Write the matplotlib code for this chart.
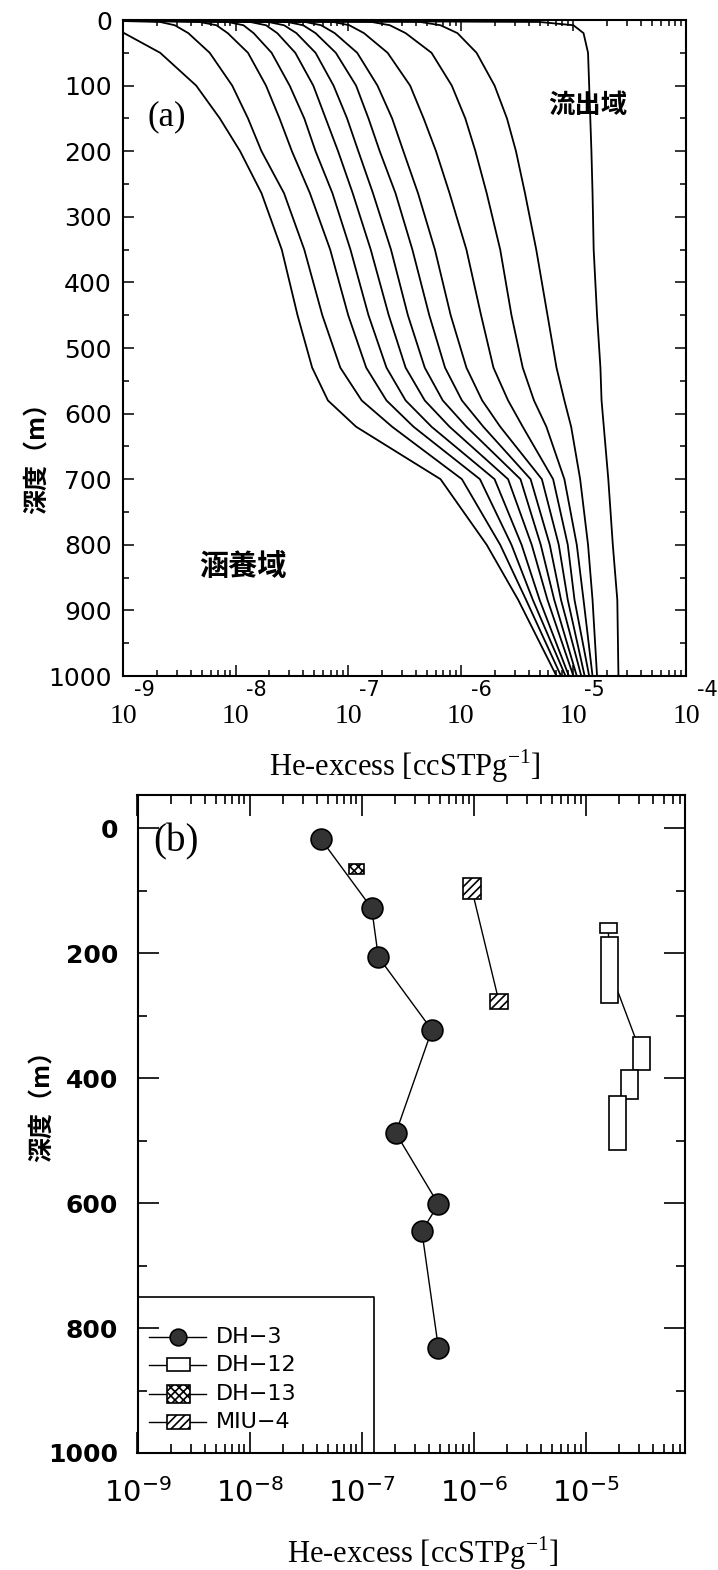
import numpy as np
import matplotlib
matplotlib.use("Agg")
import matplotlib.pyplot as plt
from matplotlib import transforms, font_manager
from matplotlib.patches import Rectangle
from matplotlib.ticker import LogLocator, MultipleLocator, NullFormatter, FixedLocator, FixedFormatter

names = {f.name for f in font_manager.fontManager.ttflist}
NARROW = 'Liberation Sans Narrow' if 'Liberation Sans Narrow' in names else 'DejaVu Sans'
CJK = ['Noto Sans CJK JP', 'DejaVu Sans']
SERIF = 'Liberation Serif'

plt.rcParams['mathtext.fontset'] = 'custom'
plt.rcParams['mathtext.rm'] = SERIF
plt.rcParams['mathtext.sf'] = NARROW

# ---------------- panel (a): model curves (log10 He-excess vs depth) -------------
depth_a = [0, 3, 8, 20, 50, 100, 150, 200, 264, 350, 450, 530, 580, 620, 700, 800, 884, 1000]
c1 = [-9.38, -9.20, -9.10, -8.99, -8.67, -8.35, -8.14, -7.96, -7.77, -7.59, -7.45, -7.32, -7.18, -6.93, -6.18, -5.77, -5.49, -5.15]
c2 = [-9.38, -8.67, -8.54, -8.42, -8.23, -8.03, -7.89, -7.77, -7.57, -7.39, -7.23, -7.07, -6.88, -6.61, -5.99, -5.65, -5.42, -5.11]
c3 = [-9.38, -8.32, -8.17, -8.07, -7.89, -7.73, -7.61, -7.50, -7.34, -7.16, -7.00, -6.84, -6.66, -6.42, -5.83, -5.55, -5.36, -5.07]
c4 = [-9.38, -8.07, -7.93, -7.84, -7.68, -7.52, -7.39, -7.29, -7.14, -6.98, -6.82, -6.66, -6.49, -6.26, -5.70, -5.46, -5.30, -5.04]
c5 = [-9.38, -7.87, -7.73, -7.63, -7.47, -7.31, -7.20, -7.09, -6.96, -6.80, -6.64, -6.49, -6.32, -6.10, -5.58, -5.37, -5.23, -5.00]
c6 = [-9.38, -7.71, -7.57, -7.46, -7.29, -7.13, -7.01, -6.91, -6.78, -6.62, -6.47, -6.32, -6.16, -5.95, -5.47, -5.29, -5.17, -4.97]
c7 = [-9.38, -7.54, -7.40, -7.29, -7.11, -6.93, -6.82, -6.72, -6.58, -6.43, -6.28, -6.14, -5.99, -5.80, -5.38, -5.21, -5.11, -4.93]
c8 = [-9.38, -7.38, -7.24, -7.12, -6.92, -6.74, -6.61, -6.51, -6.38, -6.23, -6.09, -5.95, -5.81, -5.65, -5.28, -5.13, -5.05, -4.90]
c9 = [-9.38, -7.13, -6.99, -6.86, -6.65, -6.45, -6.33, -6.22, -6.10, -5.95, -5.82, -5.71, -5.58, -5.45, -5.18, -5.05, -4.99, -4.86]
c10 = [-9.38, -6.79, -6.63, -6.49, -6.26, -6.08, -5.96, -5.87, -5.77, -5.65, -5.55, -5.45, -5.35, -5.24, -5.08, -4.97, -4.91, -4.83]
c11 = [-9.38, -6.36, -6.18, -6.03, -5.86, -5.70, -5.59, -5.51, -5.43, -5.33, -5.23, -5.15, -5.08, -5.02, -4.94, -4.87, -4.83, -4.79]
c12 = [-9.38, -5.30, -5.00, -4.91, -4.87, -4.86, -4.85, -4.84, -4.83, -4.82, -4.79, -4.76, -4.75, -4.73, -4.69, -4.65, -4.61, -4.60]
curves = [c1, c2, c3, c4, c5, c6, c7, c8, c9, c10, c11, c12]

decades_a = [-9, -8, -7, -6, -5, -4]

# ---------------- panel (b): measured He-excess -------------
dh3_he = [4.35e-8, 1.23e-7, 1.41e-7, 4.24e-7, 2.02e-7, 4.85e-7, 3.45e-7, 4.85e-7]
dh3_depth = [18, 128, 206, 323, 488, 602, 645, 832]

dh12_he = [1.59e-5, 1.64e-5, 3.13e-5, 2.45e-5, 1.93e-5]
dh12_top = [152, 174, 335, 387, 429]
dh12_bot = [168, 280, 387, 433, 515]

dh13_he = [9.0e-8]
dh13_top = [58]
dh13_bot = [74]

miu4_he = [9.6e-7, 1.68e-6]
miu4_top = [80, 265]
miu4_bot = [114, 289]

decades_b = [-9, -8, -7, -6, -5]
legend_labels = ['DH−3', 'DH−12', 'DH−13', 'MIU−4']

fig = plt.figure(figsize=(7.18, 15.70), dpi=100)
W, H = 718.0, 1570.0


def fx(px):
    return px / W


def fy(py):
    return 1 - py / H


axa = fig.add_axes([fx(123), fy(676), (686 - 123) / W, (676 - 20) / H])
axb = fig.add_axes([fx(137.5), fy(1453), (685 - 137.5) / W, (1453 - 795) / H])

# ---- panel (a)
for c in curves:
    axa.plot(10 ** np.array(c), depth_a, color='k', lw=1.3)
axa.set_xscale('log')
axa.set_xlim(1e-9, 1e-4)
axa.set_ylim(1000, 0)
axa.xaxis.set_major_locator(LogLocator(base=10, numticks=12))
axa.xaxis.set_minor_locator(LogLocator(base=10, subs=np.arange(2, 10), numticks=12))
axa.xaxis.set_major_formatter(NullFormatter())
axa.xaxis.set_minor_formatter(NullFormatter())
axa.yaxis.set_major_locator(MultipleLocator(100))
axa.yaxis.set_minor_locator(MultipleLocator(50))
axa.tick_params(which='both', direction='in', top=True, right=True, width=1.1)
axa.tick_params(which='major', length=8, pad=8, labelsize=18)
axa.tick_params(which='minor', length=4)
for s in axa.spines.values():
    s.set_linewidth(1.5)

trans = axa.get_xaxis_transform()
trans_exp = transforms.offset_copy(trans, fig=fig, x=0.21, y=0, units='inches')
for d in decades_a:
    axa.text(10.0 ** d, -0.061, '10', transform=trans, ha='center', va='center',
             fontsize=20, family=SERIF)
    axa.text(10.0 ** d, -0.021, str(d), transform=trans_exp, ha='center', va='center',
             fontsize=15, family=NARROW)

fig.text(fx(405), fy(766), 'He-excess [ccSTPg$^{-1}$]', ha='center', va='center',
         fontsize=22, family=SERIF)
fig.text(fx(167), fy(117), '(a)', ha='center', va='center', fontsize=25, family=SERIF)
fig.text(fx(588), fy(105), '流出域', ha='center', va='center', fontsize=19,
         family=CJK, fontweight='bold')
fig.text(fx(243), fy(566), '涵養域', ha='center', va='center', fontsize=21,
         family=CJK, fontweight='bold')
fig.text(fx(38), fy(452), '深度（m）', rotation=90, ha='center', va='center',
         fontsize=18, family=CJK, fontweight='bold')

# ---- panel (b)
axb.set_xscale('log')
axb.set_xlim(1e-9, 7.7e-5)
axb.set_ylim(1000, -53)

axb.plot(dh3_he, dh3_depth, color='k', lw=1.0, zorder=2)
axb.plot(dh3_he, dh3_depth, 'o', ms=15, mfc='#333333', mec='k', mew=1.2, zorder=4)

dh12_mid = [(t + b) / 2 for t, b in zip(dh12_top, dh12_bot)]
miu4_mid = [(t + b) / 2 for t, b in zip(miu4_top, miu4_bot)]
axb.plot(dh12_he, dh12_mid, color='k', lw=1.0, zorder=2)
axb.plot(miu4_he, miu4_mid, color='k', lw=1.0, zorder=2)


def boxes(ax, he, top, bot, half, hatch=None):
    for x, t, b in zip(he, top, bot):
        x0 = x * 10 ** (-half)
        x1 = x * 10 ** half
        ax.add_patch(Rectangle((x0, t), x1 - x0, b - t, facecolor='white',
                               edgecolor='k', lw=1.2, hatch=hatch, zorder=3))


plt.rcParams['hatch.linewidth'] = 1.2
boxes(axb, dh12_he, dh12_top, dh12_bot, 0.075)
boxes(axb, dh13_he, dh13_top, dh13_bot, 0.07, hatch='xxxx')
boxes(axb, miu4_he, miu4_top, miu4_bot, 0.08, hatch='////')

axb.xaxis.set_major_locator(FixedLocator([10.0 ** d for d in decades_b]))
axb.xaxis.set_major_formatter(FixedFormatter([r'$\mathsf{10^{%d}}$' % d for d in decades_b]))
axb.xaxis.set_minor_locator(LogLocator(base=10, subs=np.arange(2, 10), numticks=12))
axb.xaxis.set_minor_formatter(NullFormatter())
axb.yaxis.set_major_locator(MultipleLocator(200))
axb.yaxis.set_minor_locator(MultipleLocator(100))
axb.tick_params(which='both', direction='in', top=True, right=True, width=1.2)
axb.tick_params(which='major', length=15)
axb.tick_params(which='minor', length=6.5)
axb.tick_params(axis='y', which='major', pad=14, labelsize=18)
axb.tick_params(axis='x', which='major', pad=18, labelsize=21)
for lbl in axb.get_yticklabels():
    lbl.set_fontweight('bold')
for s in axb.spines.values():
    s.set_linewidth(1.5)

# legend (drawn by hand, frame shares the axes corner)
ta = axb.transAxes
axb.plot([0, 0.432, 0.432], [0.237, 0.237, 0], color='k', lw=1.2, transform=ta, clip_on=False)
ys = [0.176, 0.134, 0.0897, 0.0471]
for i, (lab, y) in enumerate(zip(legend_labels, ys)):
    axb.plot([0.021, 0.125], [y, y], color='k', lw=1.0, transform=ta)
    if i == 0:
        axb.plot([0.074], [y], 'o', ms=12, mfc='#333333', mec='k', mew=1.2, transform=ta)
    else:
        hatch = [None, 'xxxx', '////'][i - 1]
        hh = [0.02, 0.026, 0.021][i - 1]
        axb.add_patch(Rectangle((0.074 - 0.021, y - hh / 2), 0.042, hh, transform=ta,
                                facecolor='white', edgecolor='k', lw=1.2, hatch=hatch, zorder=3))
    axb.text(0.143, y, lab, transform=ta, ha='left', va='center', fontsize=16,
             family='DejaVu Sans')

fig.text(fx(423), fy(1553), 'He-excess [ccSTPg$^{-1}$]', ha='center', va='center',
         fontsize=22, family=SERIF)
fig.text(fx(176), fy(842), '(b)', ha='center', va='center', fontsize=28, family=SERIF)
fig.text(fx(43), fy(1100), '深度（m）', rotation=90, ha='center', va='center',
         fontsize=18, family=CJK, fontweight='bold')

fig.savefig('out.png', dpi=100)
